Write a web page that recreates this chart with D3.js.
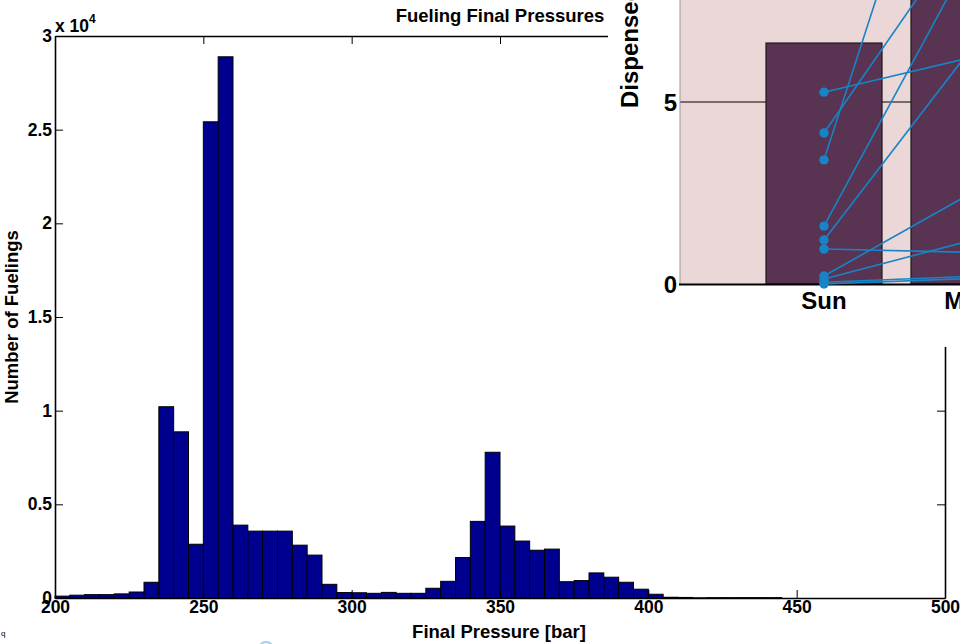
<!DOCTYPE html>
<html><head><meta charset="utf-8">
<script src="https://cdn.jsdelivr.net/npm/d3@7"></script>
<style>
html,body{margin:0;padding:0;background:#fff;overflow:hidden}
text{font-family:"Liberation Sans",Arial,Helvetica,sans-serif;font-weight:bold;fill:#000}
</style></head>
<body><svg id="c" width="960" height="644"></svg>
<script>
// ---- main histogram data ----
const binStart = 200;
const binWidth = 5;
const counts = [100,150,180,180,220,320,840,10210,8870,2870,25420,28890,3890,3570,3570,3570,2820,2290,730,290,
                280,250,300,250,250,520,890,2160,4090,7780,3840,3040,2550,2610,870,930,1340,1110,840,470,
                200,40,30,10,20,20,20,20,20];
const xTicks = [200,250,300,350,400,450,500];
const yTicks = [0,5000,10000,15000,20000,25000,30000];
const yTickLabels = ["0","0.5","1","1.5","2","2.5","3"];
const titleText = "Fueling Final Pressures";
const xLabel = "Final Pressure [bar]";
const yLabel = "Number of Fuelings";

// ---- inset data ----
const days = ["Sun","Mon"];
const dayTotals = [6.62, 9.5];
const sunValues = [5.27,4.15,3.41,1.59,1.21,0.96,0.22,0.14,0.05,0.0];
const monValues = [6.21,9.9,15.7,8.95,6.39,0.87,2.46,1.18,0.21,0.15];
const insetYTicks = [0,5];
const insetYLabel = "Dispensed Hydrogen [kg]";

const svg = d3.select("#c");

// ===== main chart =====
const x = d3.scaleLinear().domain([200,500]).range([55,945]);
const y = d3.scaleLinear().domain([0,30000]).range([598,36]);

const bins = counts.map((c,i)=>({x0:binStart+i*binWidth, x1:binStart+(i+1)*binWidth, c}));
svg.append("g").selectAll("rect").data(bins).join("rect")
  .attr("x",d=>x(d.x0)).attr("width",d=>x(d.x1)-x(d.x0))
  .attr("y",d=>y(d.c)).attr("height",d=>y(0)-y(d.c))
  .attr("fill","#00008f").attr("stroke","#000").attr("stroke-width",1);

function styleAxis(g){
  g.selectAll("path.domain").attr("stroke","#000").attr("stroke-width",1.6);
  g.selectAll(".tick line").attr("stroke","#000").attr("stroke-width",1);
  g.selectAll("text").style("font-size","17.5px").style("font-family","Liberation Sans, Arial, sans-serif").style("font-weight","bold").attr("fill","#000");
}
const fmtY = d => yTickLabels[yTicks.indexOf(d)];
svg.append("g").attr("transform","translate(55,0)")
  .call(d3.axisLeft(y).tickValues(yTicks).tickFormat(fmtY).tickSize(-8).tickSizeOuter(0).tickPadding(3))
  .call(styleAxis);
svg.append("g").attr("transform","translate(945,0)")
  .call(d3.axisRight(y).tickValues(yTicks).tickFormat("").tickSize(-8).tickSizeOuter(0))
  .call(styleAxis);
svg.append("g").attr("transform","translate(0,598)")
  .call(d3.axisBottom(x).tickValues(xTicks).tickFormat(d3.format("d")).tickSize(-8).tickSizeOuter(0).tickPadding(3))
  .call(styleAxis);
svg.append("g").attr("transform","translate(0,36)")
  .call(d3.axisTop(x).tickValues(xTicks).tickFormat("").tickSize(-8).tickSizeOuter(0))
  .call(styleAxis);

// exponent
const ex = svg.append("text").attr("x",55).attr("y",32).style("font-size","17.5px");
ex.append("tspan").text("x 10");
ex.append("tspan").attr("dy",-9).style("font-size","12px").text("4");

svg.append("text").attr("x",500).attr("y",22).attr("text-anchor","middle").style("font-size","18.5px").text(titleText);
svg.append("text").attr("x",499).attr("y",638).attr("text-anchor","middle").style("font-size","18.5px").text(xLabel);
svg.append("text").attr("transform","translate(18,317) rotate(-90)").attr("text-anchor","middle").style("font-size","18.5px").text(yLabel);

// small stray artifacts
svg.append("text").attr("x",1).attr("y",636).style("font-size","8px").style("font-weight","normal").text("q");
svg.append("circle").attr("cx",266).attr("cy",649).attr("r",7).attr("fill","none").attr("stroke","#9fd0ee").attr("stroke-width",2);

// ===== inset figure =====
svg.append("rect").attr("x",608).attr("y",0).attr("width",352).attr("height",347).attr("fill","#fff");

const ix = d3.scaleLinear().domain([0,1]).range([679,824]);
const iy = d3.scaleLinear().domain([0,5]).range([284,102]);
const inset = svg.append("g");
inset.append("rect").attr("x",ix(0)+1).attr("y",iy(10)).attr("width",ix(3)-ix(0)).attr("height",iy(0)-iy(10)).attr("fill","#ebd7d7");
inset.selectAll("line.grid").data(insetYTicks.filter(v=>v>0)).join("line").attr("class","grid")
  .attr("x1",ix(0)+1).attr("x2",960).attr("y1",d=>iy(d)).attr("y2",d=>iy(d)).attr("stroke","#000").attr("stroke-width",1);
inset.selectAll("rect.bar").data(days).join("rect").attr("class","bar")
  .attr("x",(d,i)=>ix(i+1)-ix(0.4)+ix(0)).attr("width",ix(0.8)-ix(0))
  .attr("y",(d,i)=>iy(dayTotals[i])).attr("height",(d,i)=>iy(0)-iy(dayTotals[i]))
  .attr("fill","#583352").attr("stroke","#1a1a1a").attr("stroke-width",1.2);
inset.append("line").attr("x1",ix(0)+1).attr("x2",ix(0)+1).attr("y1",iy(10)).attr("y2",iy(0)).attr("stroke","#999").attr("stroke-width",1);
inset.append("line").attr("x1",ix(0)).attr("x2",960).attr("y1",iy(0)+0.5).attr("y2",iy(0)+0.5).attr("stroke","#000").attr("stroke-width",2);
const pairs = sunValues.map((v,i)=>({a:v,b:monValues[i]}));
inset.selectAll("line.link").data(pairs).join("line").attr("class","link")
  .attr("x1",ix(1)).attr("y1",d=>iy(d.a)).attr("x2",ix(2)).attr("y2",d=>iy(d.b))
  .attr("stroke","#1784c7").attr("stroke-width",1.6);
inset.selectAll("circle.dot").data(sunValues).join("circle").attr("class","dot")
  .attr("cx",ix(1)).attr("cy",d=>iy(d)).attr("r",4.7).attr("fill","#1784c7");
inset.selectAll("text.yt").data(insetYTicks).join("text").attr("class","yt")
  .attr("x",ix(0)-2).attr("y",d=>iy(d)).attr("dy","0.36em").attr("text-anchor","end").style("font-size","24px").text(d=>d);
inset.selectAll("text.xt").data(days).join("text").attr("class","xt")
  .attr("x",(d,i)=>ix(i+1)).attr("y",309).attr("text-anchor","middle").style("font-size","24px").text(d=>d);
inset.append("text").attr("transform","translate(638,108) rotate(-90)").attr("text-anchor","start").style("font-size","24px").text(insetYLabel);
</script></body></html>
